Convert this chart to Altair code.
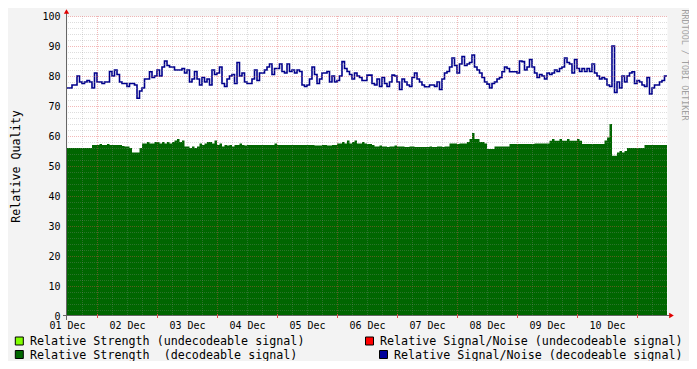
import altair as alt
import pandas as pd

# Relative Signal/Noise (decodeable), hourly from 01 Dec 00:00
blue = [
    76, 76, 77, 77, 80, 78, 77.5, 78, 78.5, 78,
    76, 81, 78, 78, 77.5, 78, 78, 81.5, 80, 82,
    80.5, 78, 77.5, 77.5, 76.5, 77.5, 77.5, 77, 72.6, 75,
    76, 79, 79, 81.4, 79.5, 80, 82, 80, 83, 85,
    83.5, 83, 83, 82, 82, 82, 82.5, 81, 82, 78,
    79, 81.5, 79, 77, 79.5, 78, 79, 77, 82, 80.5,
    81, 83, 77.5, 76.5, 79, 80, 80.5, 77.5, 84.5, 80,
    81, 78, 77.5, 77.5, 79, 82, 78.5, 81, 81, 82,
    83, 84, 80.5, 82.5, 82.5, 84, 81.5, 81, 84, 81.5,
    82, 81, 82, 81.5, 77, 76.5, 77, 79, 83, 80.5,
    77.5, 79, 81, 81, 81.5, 78, 80, 78, 78.5, 80,
    84.8, 82.5, 81.5, 80.5, 79, 81, 80, 79.5, 78.5, 78.5,
    80.3, 80.3, 77.5, 77, 79, 76.5, 79.5, 77.5, 76.5, 78,
    80.3, 80, 78, 75.5, 79, 78, 77, 76.5, 79.5, 81,
    79, 78, 77, 76.4, 76.4, 77, 77, 76.5, 78, 75.5,
    79, 81, 81.5, 83, 86, 83.5, 81, 84, 86.5, 83.5,
    84, 84.5, 87, 83, 82, 81, 79.5, 78, 77.3, 76,
    77.5, 78, 79, 79.5, 81.4, 83, 82.5, 81.4, 81.4, 81.4,
    81, 85, 84.8, 82, 83, 85.5, 83, 81, 79.5, 80.5,
    80, 79, 81, 80.5, 81, 82, 81.5, 82.5, 83, 86,
    84.5, 84, 81, 85.5, 82.5, 81.5, 82.5, 81.5, 82.5, 81.5,
    84, 81, 80, 79, 79.5, 79, 77, 76.5, 90, 74.5,
    78, 76, 80, 78, 80, 81, 81.4, 77.5, 78.5, 78,
    77, 76.5, 79.5, 74, 76, 77, 77, 78, 78.5, 80,
]

# Relative Strength (decodeable), hourly
green = [
    56, 56, 56, 56, 56, 56, 56, 56, 56, 56,
    57, 57, 57, 57.3, 57, 57, 57.3, 57, 57, 57, 57, 57, 56.7, 56.5,
    56.5, 56,
    54.5, 54.5, 54.5,
    56,
    57.5, 57.5, 58, 57.5, 57.5,
    58, 58, 57.5, 58,
    57.5, 58, 57.5,
    58, 58.5, 59, 58, 58.5,
    56.5, 56.5, 56, 56.5,
    56, 56.5,
    57.5, 57, 57.5, 58,
    58, 57.5, 58.5,
    57, 57.5, 56.5, 57, 56.8, 57, 56.5, 57, 57, 57.5,
    57, 56.8, 57, 57, 57, 57, 57, 57, 57, 57,
    57, 57, 57, 57.5, 57, 57, 57, 57, 57, 57, 57, 57, 57, 57, 57, 57,
    57, 57, 57, 56.8, 56.8, 56.8, 57, 57, 56.8, 56.8, 57, 57,
    57.5, 57.5, 58, 57.5, 58.5, 57.5, 58, 58.5, 57.5, 57.5, 58, 57.5,
    57.3, 57.3, 57,
    56.5, 56.5, 56.8, 56.5, 56.5, 56.3, 56.5, 56.5, 56.8, 56.5,
    56.5, 56.5, 56.3, 56.3, 56.5, 56.5, 56.3, 56.3, 56.3, 56.3,
    56.3, 56.3, 56.5, 56.3, 56.3, 56.5, 56.5, 56.3, 56.5, 56.5,
    57.5, 57.5, 57.5, 57.3, 57.5, 57.5, 57.5, 58,
    59, 61, 59, 59,
    58, 58, 57.5,
    55.7, 55.7, 55.7,
    56.5, 56.5, 56.5, 56.5, 56.5, 56.5,
    57.3, 57.3, 57.3,
    57.3, 57.3, 57.3, 57.3, 57.3, 57.3, 57.3,
    57.5, 57.5, 57.5, 57.5, 57.5, 57.5,
    58.4, 59, 58.4, 58.4, 59, 58.4, 58.4, 59, 58.4, 58.4, 58.4, 59, 58.4,
    57.3, 57.3, 57.3, 57.3, 57.3, 57.3, 57.3, 57.3, 57.3,
    58.5, 59.5,
    64,
    53.4, 53.4,
    54.5, 55, 54.5, 55,
    56, 56, 56, 56, 56, 56, 56,
    57, 57, 57, 57, 57, 57, 57, 57, 57,
]

day_labels = ["01 Dec", "02 Dec", "03 Dec", "04 Dec", "05 Dec",
              "06 Dec", "07 Dec", "08 Dec", "09 Dec", "10 Dec"]
y_labels = [0, 10, 20, 30, 40, 50, 60, 70, 80, 90, 100]
legend_labels = ["Relative Strength (undecodeable signal)",
                 "Relative Signal/Noise (undecodeable signal)",
                 "Relative Strength\u00a0 (decodeable signal)",
                 "Relative Signal/Noise (decodeable signal)"]
legend_colors = ["#80FF00", "#FF0000", "#006600", "#000099"]
watermark = "RRDTOOL / TOBI OETIKER"

FONT = "DejaVu Sans Mono"
n = len(blue)
df = pd.DataFrame({
    "h": list(range(n + 1)),
    "sn": blue + [blue[-1]],
    "rs": green + [green[-1]],
})

x_scale = alt.Scale(domain=[0, 240], nice=False, zero=False)
y_scale = alt.Scale(domain=[0, 100], nice=False)

label_expr = "[" + ",".join("'%s'" % d for d in day_labels) + "][round(datum.value/24)]"
x_axis = alt.Axis(values=[24 * i for i in range(len(day_labels))], labelExpr=label_expr,
                  domain=False, ticks=False, grid=False, labelFont=FONT, labelFontSize=10,
                  labelColor="#000000", labelPadding=4, labelFlush=False, labelOverlap=False,
                  title="")
y_axis = alt.Axis(values=y_labels, domain=False, ticks=False, grid=False, labelFont=FONT,
                  labelFontSize=10, labelColor="#000000", labelPadding=7,
                  title="Relative Quality", titleFont=FONT, titleFontSize=11.7,
                  titleFontWeight="normal", titleColor="#000000", titleX=-52, titleY=150,
                  titleAngle=270, titleAlign="center", titleBaseline="middle")

X = lambda f: alt.X(f, scale=x_scale, axis=x_axis)
Y = lambda f: alt.Y(f, scale=y_scale, axis=y_axis)

area = alt.Chart(df).mark_area(interpolate="step-after", color="#006600", opacity=1).encode(
    x=X("h:Q"), y=Y("rs:Q"))
line = alt.Chart(df).mark_line(interpolate="step-after", color="#00008C", strokeWidth=1.6).encode(
    x=X("h:Q"), y=Y("sn:Q"))

gy_minor = pd.DataFrame({"v": [v for v in range(2, 100, 2) if v % 10]})
gy_major = pd.DataFrame({"v": list(range(10, 101, 10))})
gx_minor = pd.DataFrame({"v": [h for h in range(6, 240, 6) if (h - 12) % 24]})
gx_major = pd.DataFrame({"v": list(range(12, 240, 24))})

grid_minor_color = "#8F8F8F"
grid_major_color = "#E05050"

rule_ym = alt.Chart(gy_minor).mark_rule(color=grid_minor_color, opacity=0.3, strokeDash=[1, 1],
                                        yOffset=0.5).encode(y=Y("v:Q"))
rule_yM = alt.Chart(gy_major).mark_rule(color=grid_major_color, opacity=0.4, strokeDash=[1, 1],
                                        yOffset=0.5).encode(y=Y("v:Q"))
rule_xm = alt.Chart(gx_minor).mark_rule(color=grid_minor_color, opacity=0.3, strokeDash=[1, 1],
                                        xOffset=0.5).encode(x=X("v:Q"))
rule_xM = alt.Chart(gx_major).mark_rule(color=grid_major_color, opacity=0.4, strokeDash=[1, 1],
                                        xOffset=0.5).encode(x=X("v:Q"))
xticks = alt.Chart(gx_major).mark_rule(color="#E05050", xOffset=0.5).encode(
    x=X("v:Q"), y=alt.value(298), y2=alt.value(302))

one = pd.DataFrame({"a": [0]})
x_axis_line = alt.Chart(one).mark_rule(color="#666666", strokeWidth=1).encode(
    x=alt.value(-4), x2=alt.value(604), y=alt.value(299.5))
y_axis_line = alt.Chart(one).mark_rule(color="#666666", strokeWidth=1).encode(
    x=alt.value(-0.5), y=alt.value(-5), y2=alt.value(304))
arrow_up = alt.Chart(one).mark_point(shape="triangle-up", filled=True, color="#E00000",
                                     size=28, opacity=1).encode(
    x=alt.value(-0.5), y=alt.value(-4.5))
arrow_right = alt.Chart(one).mark_point(shape="triangle-right", filled=True, color="#E00000",
                                        size=28, opacity=1).encode(
    x=alt.value(604.5), y=alt.value(299.5))

box_pos = [(-47.7, 325), (302.5, 325), (-47.7, 338.5), (316.5, 338.5)]
text_x = [-37, 313, -37, 327]
legend_layers = []
for i, lab in enumerate(legend_labels):
    bx, by = box_pos[i]
    legend_layers.append(
        alt.Chart(one).mark_square(size=64, fill=legend_colors[i], stroke="#000000",
                                   strokeWidth=1, opacity=1).encode(
            x=alt.value(bx), y=alt.value(by)))
    legend_layers.append(
        alt.Chart(pd.DataFrame({"t": [lab]})).mark_text(
            font=FONT, fontSize=11.7, align="left", baseline="middle", color="#000000").encode(
            text="t:N", x=alt.value(text_x[i]), y=alt.value(by)))

wm = alt.Chart(pd.DataFrame({"t": [watermark]})).mark_text(
    font=FONT, fontSize=8.4, angle=90, align="center", baseline="middle", color="#A0A0A0").encode(
    text="t:N", x=alt.value(618), y=alt.value(49))

chart = alt.layer(
    area, line, rule_ym, rule_xm, rule_yM, rule_xM,
    x_axis_line, y_axis_line, xticks, arrow_up, arrow_right, wm, *legend_layers
).properties(
    width=600, height=300, background="#F3F3F3",
    padding={"left": 59, "top": 8, "right": 22, "bottom": 45},
    autosize=alt.AutoSizeParams(type="none"),
).configure_view(fill="white", stroke="transparent")

chart.save("out.html", embed_options={"renderer": "svg", "actions": False})
